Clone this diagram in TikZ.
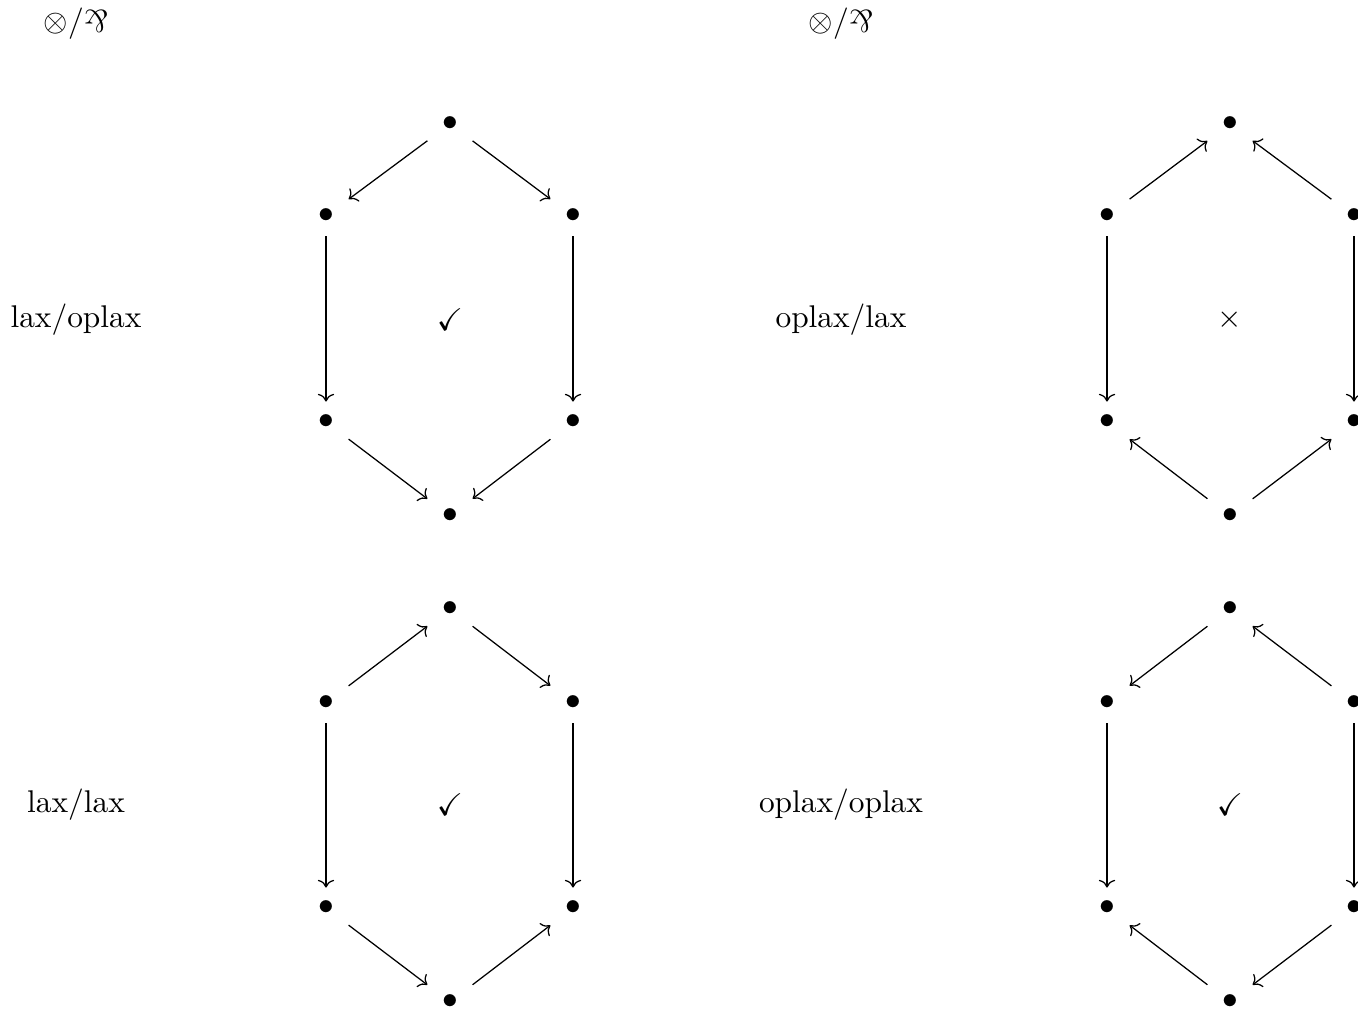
\documentclass[tikz,border=0pt]{standalone}
\usepackage{amssymb}
\usepackage{graphicx}
\usetikzlibrary{arrows.meta}
\newcommand{\myparr}{\mathbin{\rotatebox[origin=c]{180}{$\&$}}}
\begin{document}
\begin{tikzpicture}[x=0.3185pt,y=-0.3185pt,
  pt/.style={minimum width=14pt,minimum height=12.6pt,inner sep=0pt},
  arr/.style={-{Computer Modern Rightarrow},line width=0.4pt},
  lbl/.style={inner sep=0pt}]
\useasboundingbox (0,-2) rectangle (1358,1010);
% headers
\node[lbl] (h1) at (76,22) {$\otimes/{\myparr}$};
\node[lbl] (h2) at (841,22) {$\otimes/{\myparr}$};
% row labels
\node[lbl] (l1) at (76,318) {lax/oplax};
\node[lbl] (l2) at (841,318) {oplax/lax};
\node[lbl] (l3) at (76,803) {lax/lax};
\node[lbl] (l4) at (841,803) {oplax/oplax};
% marks
\node[lbl] (m1) at (450,318) {$\checkmark$};
\node[lbl] (m2) at (1230,318) {$\times$};
\node[lbl] (m3) at (450,803) {$\checkmark$};
\node[lbl] (m4) at (1230,803) {$\checkmark$};
% diagram A
\node[pt] (a1) at (450,122) {$\bullet$};
\node[pt] (a2) at (326,214) {$\bullet$};
\node[pt] (a3) at (573,214) {$\bullet$};
\node[pt] (a4) at (326,420) {$\bullet$};
\node[pt] (a5) at (573,420) {$\bullet$};
\node[pt] (a6) at (450,514) {$\bullet$};
\draw[arr] (a1) -- (a2);
\draw[arr] (a1) -- (a3);
\draw[arr] (a2) -- (a4);
\draw[arr] (a3) -- (a5);
\draw[arr] (a4) -- (a6);
\draw[arr] (a5) -- (a6);
% diagram B
\node[pt] (b1) at (1230,122) {$\bullet$};
\node[pt] (b2) at (1107,214) {$\bullet$};
\node[pt] (b3) at (1354,214) {$\bullet$};
\node[pt] (b4) at (1107,420) {$\bullet$};
\node[pt] (b5) at (1354,420) {$\bullet$};
\node[pt] (b6) at (1230,514) {$\bullet$};
\draw[arr] (b2) -- (b1);
\draw[arr] (b3) -- (b1);
\draw[arr] (b2) -- (b4);
\draw[arr] (b3) -- (b5);
\draw[arr] (b6) -- (b4);
\draw[arr] (b6) -- (b5);
% diagram C
\node[pt] (c1) at (450,607) {$\bullet$};
\node[pt] (c2) at (326,701) {$\bullet$};
\node[pt] (c3) at (573,701) {$\bullet$};
\node[pt] (c4) at (326,906) {$\bullet$};
\node[pt] (c5) at (573,906) {$\bullet$};
\node[pt] (c6) at (450,1000) {$\bullet$};
\draw[arr] (c2) -- (c1);
\draw[arr] (c1) -- (c3);
\draw[arr] (c2) -- (c4);
\draw[arr] (c3) -- (c5);
\draw[arr] (c4) -- (c6);
\draw[arr] (c6) -- (c5);
% diagram D
\node[pt] (d1) at (1230,607) {$\bullet$};
\node[pt] (d2) at (1107,701) {$\bullet$};
\node[pt] (d3) at (1354,701) {$\bullet$};
\node[pt] (d4) at (1107,906) {$\bullet$};
\node[pt] (d5) at (1354,906) {$\bullet$};
\node[pt] (d6) at (1230,1000) {$\bullet$};
\draw[arr] (d1) -- (d2);
\draw[arr] (d3) -- (d1);
\draw[arr] (d2) -- (d4);
\draw[arr] (d3) -- (d5);
\draw[arr] (d6) -- (d4);
\draw[arr] (d5) -- (d6);
\end{tikzpicture}
\end{document}
